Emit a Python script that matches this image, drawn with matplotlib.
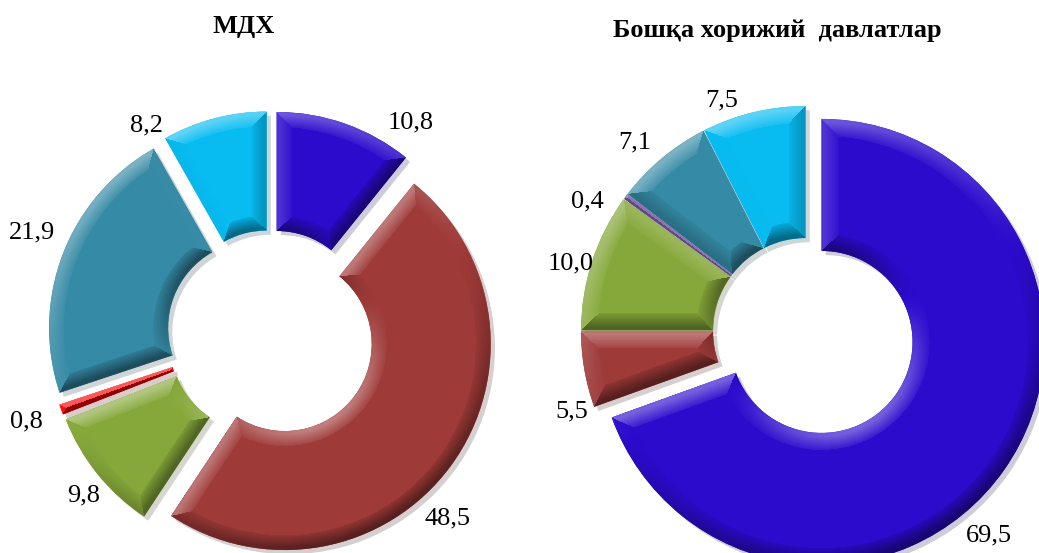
import matplotlib
matplotlib.use("Agg")
import matplotlib.pyplot as plt
import matplotlib.patheffects as pe
from matplotlib.colors import to_rgb
import numpy as np

# left donut
left_title = "МДХ"
left_values = [10.8, 48.5, 9.8, 0.8, 21.9, 8.2]
left_colors = ["#2c0bcc", "#9e3a38", "#86a83a", "#ff0000", "#358aa5", "#08bcf2"]

# right donut
right_title = "Бошқа хорижий  давлатлар"
right_values = [69.5, 5.5, 10.0, 0.4, 7.1, 7.5]
right_colors = ["#2c0bcc", "#9e3a38", "#86a83a", "#7b5ba6", "#358aa5", "#08bcf2"]

# label placement tweaks (degrees clockwise from the slice middle, distance in radii)
left_lab_shift = [14, 10, -2, 0, 2, -16]
left_lab_dist = [1.23, 1.24, 1.20, 1.26, 1.26, 1.18]
right_lab_shift = [13, -9, -2, -6, -2.5, -6.5]
right_lab_dist = [1.23, 1.11, 1.10, 1.14, 1.14, 1.10]

W, H = 1039, 553


def fmt(v):
    return f"{v:.1f}".replace(".", ",")


def bevel(ax, w, color, b=12):
    # fake excel-like bevel: shade a band along each edge by its facing to the light
    cx, cy = w.center
    ro = w.r
    ri = w.r - w.width
    t1, t2 = np.radians(w.theta1), np.radians(w.theta2)
    x0, x1 = int(cx - ro) - 2, int(cx + ro) + 3
    y0, y1 = int(cy - ro) - 2, int(cy + ro) + 3
    X, Y = np.meshgrid(np.arange(x0, x1) + 0.5, np.arange(y0, y1) + 0.5)
    dx, dy = X - cx, Y - cy
    rho = np.hypot(dx, dy) + 1e-9
    a = np.arctan2(dy, dx)
    phi = np.mod(a - t1, 2 * np.pi)
    span = t2 - t1
    d_out = ro - rho
    d_in = rho - ri
    d_e1 = np.where(phi < np.pi / 2, rho * np.sin(phi), 1e9)
    d_e2 = np.where(np.abs(span - phi) < np.pi / 2, rho * np.sin(span - phi), 1e9)
    L = np.array([-0.45, 0.89])
    s_out = np.cos(a) * L[0] + np.sin(a) * L[1]
    s_in = -s_out
    s_e1 = np.full_like(rho, np.sin(t1) * L[0] - np.cos(t1) * L[1])
    s_e2 = np.full_like(rho, -np.sin(t2) * L[0] + np.cos(t2) * L[1])
    d = np.stack([d_out, d_in, d_e1, d_e2])
    s = np.stack([s_out, s_in, s_e1, s_e2])
    k = np.argmin(d, axis=0)
    dmin = np.take_along_axis(d, k[None], 0)[0]
    ssel = np.take_along_axis(s, k[None], 0)[0]
    # soften towards the inner side of the band
    fade = np.clip(1.2 - dmin / b, 0, 1)
    shade = np.where(dmin < b, ssel * fade, 0.0)
    base = np.array(to_rgb(color))
    img = np.empty(X.shape + (3,))
    for c in range(3):
        lite = base[c] + (1 - base[c]) * 0.35 * np.clip(shade, 0, 1)
        dark = base[c] * (1 + 0.45 * np.clip(shade, -1, 0))
        img[..., c] = np.where(shade > 0, lite, dark)
    im = ax.imshow(img, extent=(x0, x1, y0, y1), origin="lower",
                   interpolation="bilinear", zorder=2)
    im.set_clip_path(w)


def donut(ax, values, colors, center, R, r, explode, shifts, dists, b):
    wedges, texts = ax.pie(values, explode=explode, radius=R, center=center,
                           startangle=90, counterclock=False, colors=colors,
                           labels=[fmt(v) for v in values],
                           wedgeprops=dict(width=R - r, edgecolor="none"),
                           textprops=dict(family="Liberation Serif", fontsize=19,
                                          color="black"))
    for w, c in zip(wedges, colors):
        w.set_path_effects([pe.SimplePatchShadow(offset=(3, -3), alpha=0.2), pe.Normal()])
        bevel(ax, w, c, b)
    for w, t, sh, dd in zip(wedges, texts, shifts, dists):
        ang = np.radians((w.theta1 + w.theta2) / 2 - sh)
        t.set_position((center[0] + dd * R * np.cos(ang), center[1] + dd * R * np.sin(ang)))
        t.set_ha("center")
        t.set_va("center")
    return wedges, texts


fig = plt.figure(figsize=(W / 100, H / 100), dpi=100)
ax = fig.add_axes([0, 0, 1, 1])

donut(ax, left_values, left_colors, (271, H - 334), 206, 87, [17] * 6,
      left_lab_shift, left_lab_dist, 15)
donut(ax, right_values, right_colors, (806, H - 331), 223, 91, [19, 2, 2, 2, 2, 2],
      right_lab_shift, right_lab_dist, 17)

ax.text(244, H - 27, left_title, ha="center", va="center", family="Liberation Serif",
        fontsize=19, fontweight="bold")
ax.text(777, H - 30, right_title, ha="center", va="center", family="Liberation Serif",
        fontsize=19, fontweight="bold")

ax.set_xlim(0, W)
ax.set_ylim(0, H)
ax.set_aspect("equal")
ax.axis("off")

fig.savefig("out.png", dpi=100)
